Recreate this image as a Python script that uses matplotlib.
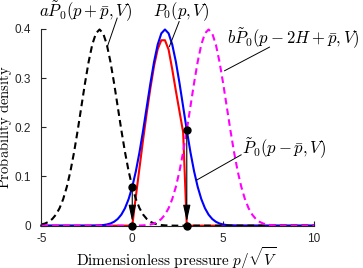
import matplotlib
matplotlib.use('Agg')
import matplotlib.pyplot as plt

plt.rcParams['font.family'] = ['Liberation Sans', 'DejaVu Sans']
plt.rcParams['mathtext.fontset'] = 'cm'
plt.rcParams['axes.unicode_minus'] = False

# pressure grid (shared by the three full curves)
p = [-5.0, -4.8, -4.6, -4.4, -4.2, -4.0, -3.8, -3.6, -3.4, -3.2,
     -3.0, -2.8, -2.6, -2.4, -2.2, -2.0, -1.8, -1.6, -1.4, -1.2,
     -1.0, -0.8, -0.6, -0.4, -0.2, 0.0, 0.2, 0.4, 0.6, 0.8,
     1.0, 1.2, 1.4, 1.6, 1.8, 2.0, 2.2, 2.4, 2.6, 2.8,
     3.0, 3.2, 3.4, 3.6, 3.8, 4.0, 4.2, 4.4, 4.6, 4.8,
     5.0, 5.2, 5.4, 5.6, 5.8, 6.0, 6.2, 6.4, 6.6, 6.8,
     7.0, 7.2, 7.4, 7.6, 7.8, 8.0, 8.2, 8.4, 10.0]

# a*P0(p+pbar, V)  (black dashed)
left_image = [0.0024, 0.0044, 0.0079, 0.0136, 0.0224, 0.0355, 0.0540, 0.0790, 0.1109, 0.1497,
              0.1942, 0.2420, 0.2897, 0.3332, 0.3683, 0.3910, 0.3989, 0.3910, 0.3683, 0.3332,
              0.2897, 0.2420, 0.1942, 0.1497, 0.1109, 0.0790, 0.0540, 0.0355, 0.0224, 0.0136,
              0.0079, 0.0044, 0.0024, 0.0012, 0.0006, 0.0003, 0.0001, 0, 0, 0,
              0, 0, 0, 0, 0, 0, 0, 0, 0, 0,
              0, 0, 0, 0, 0, 0, 0, 0, 0, 0,
              0, 0, 0, 0, 0, 0, 0, 0, 0]

# P0(p, V)  (blue)
free = [0, 0, 0, 0, 0, 0, 0, 0, 0, 0,
        0, 0, 0, 0, 0.0001, 0.0003, 0.0006, 0.0012, 0.0024, 0.0044,
        0.0079, 0.0136, 0.0224, 0.0355, 0.0540, 0.0790, 0.1109, 0.1497, 0.1942, 0.2420,
        0.2897, 0.3332, 0.3683, 0.3910, 0.3989, 0.3910, 0.3683, 0.3332, 0.2897, 0.2420,
        0.1942, 0.1497, 0.1109, 0.0790, 0.0540, 0.0355, 0.0224, 0.0136, 0.0079, 0.0044,
        0.0024, 0.0012, 0.0006, 0.0003, 0.0001, 0, 0, 0, 0, 0,
        0, 0, 0, 0, 0, 0, 0, 0, 0]

# b*P0(p-2H+pbar, V)  (magenta dashed)
right_image = [0, 0, 0, 0, 0, 0, 0, 0, 0, 0,
               0, 0, 0, 0, 0, 0, 0, 0, 0, 0,
               0, 0, 0, 0, 0, 0, 0.0001, 0.0003, 0.0006, 0.0012,
               0.0024, 0.0044, 0.0079, 0.0136, 0.0224, 0.0355, 0.0540, 0.0790, 0.1109, 0.1497,
               0.1942, 0.2420, 0.2897, 0.3332, 0.3683, 0.3910, 0.3989, 0.3910, 0.3683, 0.3332,
               0.2897, 0.2420, 0.1942, 0.1497, 0.1109, 0.0790, 0.0540, 0.0355, 0.0224, 0.0136,
               0.0079, 0.0044, 0.0024, 0.0012, 0.0006, 0.0003, 0.0001, 0, 0]

# P~0(p-pbar, V) inside the gap (red)
p_gap = [-5.0, 0.0, 0.2, 0.4, 0.6, 0.8, 1.0, 1.2, 1.4, 1.6, 1.8, 2.0, 2.2, 2.4, 2.6, 2.8, 3.0, 10.0]
gap = [0, 0, 0.060, 0.118, 0.176, 0.230, 0.280, 0.325, 0.359, 0.377, 0.377, 0.358, 0.318,
       0.274, 0.232, 0.190, 0, 0]

# boundary points and arrows
p_wall = [0.0, 3.0]
wall_top = [0.079, 0.195]

fig = plt.figure(figsize=(3.63, 2.68), dpi=100)
ax = fig.add_axes([0.114, 0.158, 0.751, 0.734])

ax.plot(p_gap, gap, color='red', lw=1.5, clip_on=False)
ax.plot(p, free, color='blue', lw=1.5, clip_on=False)
ax.plot(p, left_image, color='black', lw=1.5, ls=(0, (3.2, 2)), clip_on=False)
ax.plot(p, right_image, color='magenta', lw=1.5, ls=(0, (3.2, 2)), clip_on=False)

for xw, yw in zip(p_wall, wall_top):
    ax.annotate('', xy=(xw, 0.008), xytext=(xw, yw),
                arrowprops=dict(arrowstyle='-|>,head_length=1.0,head_width=0.22',
                                color='black', lw=0.8, shrinkA=0, shrinkB=0))
    ax.plot([xw, xw], [yw, 0], 'o', color='black', ms=5, clip_on=False, zorder=5)

# labels with leader lines
lab_kw = dict(fontsize=12, ha='center', va='center')
ax.text(-2.59, 0.436, r'$a\tilde{P}_0(p+\bar{p},V)$', **lab_kw)
ax.plot([-0.83, -1.37], [0.422, 0.364], color='black', lw=0.7, clip_on=False)
ax.text(2.70, 0.436, r'$P_0(p,V)$', **lab_kw)
ax.plot([2.58, 2.04], [0.415, 0.364], color='black', lw=0.7, clip_on=False)
ax.text(8.86, 0.381, r'$b\tilde{P}_0(p-2H+\bar{p},V)$', **lab_kw)
ax.plot([7.55, 5.08], [0.363, 0.315], color='black', lw=0.7, clip_on=False)
ax.text(8.39, 0.157, r'$\tilde{P}_0(p-\bar{p},V)$', **lab_kw)
ax.plot([5.99, 3.56], [0.144, 0.093], color='black', lw=0.7, clip_on=False)

ax.set_xlim(-5, 10)
ax.set_ylim(0, 0.4)
ax.set_xticks([-5, 0, 5, 10])
ax.set_yticks([0, 0.1, 0.2, 0.3, 0.4])
ax.set_yticklabels(['0', '0.1', '0.2', '0.3', '0.4'])
ax.tick_params(direction='in', length=3.5, width=0.8, labelsize=8.5, colors='#262626')
ax.tick_params(axis='x', pad=5)
ax.tick_params(axis='y', pad=7.5)
ax.spines['top'].set_visible(False)
ax.spines['right'].set_visible(False)
for s in ['left', 'bottom']:
    ax.spines[s].set_color('#262626')
    ax.spines[s].set_linewidth(0.8)

ax.set_xlabel(r'$\mathrm{Dimensionless\ pressure}\ p/\sqrt{V}$', fontsize=11)
ax.xaxis.set_label_coords(0.494, -0.1)
ax.set_ylabel(r'$\mathrm{Probability\ density}$', fontsize=10.5)
ax.yaxis.set_label_coords(-0.1, 0.5)

fig.savefig('out.png', dpi=100)
